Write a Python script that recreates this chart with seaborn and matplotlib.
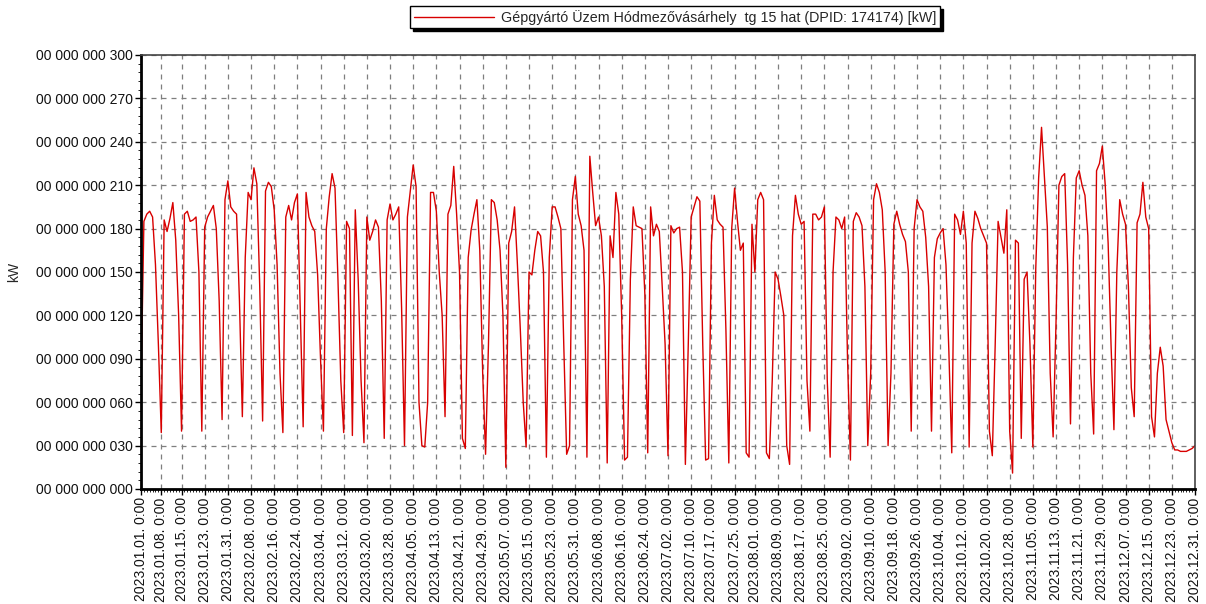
import matplotlib
matplotlib.use("Agg")
import numpy as np
import pandas as pd
import matplotlib.pyplot as plt
import matplotlib.dates as mdates
from matplotlib.ticker import MultipleLocator
import seaborn as sns

# ---------------- data ----------------
series_label = "Gépgyártó Üzem Hódmezővásárhely  tg 15 hat (DPID: 174174) [kW]"
y_label = "kW"
start_date = "2023-01-01"

tick_dates = [
    "2023-01-01", "2023-01-08", "2023-01-15", "2023-01-23", "2023-01-31",
    "2023-02-08", "2023-02-16", "2023-02-24", "2023-03-04", "2023-03-12",
    "2023-03-20", "2023-03-28", "2023-04-05", "2023-04-13", "2023-04-21",
    "2023-04-29", "2023-05-07", "2023-05-15", "2023-05-23", "2023-05-31",
    "2023-06-08", "2023-06-16", "2023-06-24", "2023-07-02", "2023-07-10",
    "2023-07-17", "2023-07-25", "2023-08-01", "2023-08-09", "2023-08-17",
    "2023-08-25", "2023-09-02", "2023-09-10", "2023-09-18", "2023-09-26",
    "2023-10-04", "2023-10-12", "2023-10-20", "2023-10-28", "2023-11-05",
    "2023-11-13", "2023-11-21", "2023-11-29", "2023-12-07", "2023-12-15",
    "2023-12-23", "2023-12-31",
]
y_ticks = [0, 30, 60, 90, 120, 150, 180, 210, 240, 270, 300]

# daily values (kW): Jan 1, then weeks Mon..Sun
kw_part1 = [
    69,
    185, 190, 192, 188, 155, 100, 39,
    186, 178, 187, 198, 172, 120, 40,
    190, 192, 185, 186, 188, 150, 40,
    181, 188, 192, 196, 180, 130, 48,
    200, 213, 195, 192, 190, 130, 50,
    160, 205, 200, 222, 211, 140, 47,
    206, 212, 209, 193, 155, 80, 39,
    188, 196, 186, 198, 204, 125, 43,
    205, 188, 182, 178, 148, 90, 40,
    180, 202, 218, 208, 146, 75, 39,
    185, 180, 37, 193, 145, 75, 32,
    188, 172, 178, 186, 181, 130, 35,
    186, 197, 186, 190, 195, 125, 30,
]
kw_part2 = [
    188, 206, 224, 209, 60, 30, 29,
    60, 205, 205, 192, 150, 120, 50,
    190, 196, 223, 190, 150, 35, 28,
    160, 179, 190, 200, 165, 80, 24,
    100, 200, 198, 186, 165, 120, 15,
    170, 178, 195, 155, 110, 60, 29,
    150, 148, 165, 178, 175, 150, 22,
    160, 195, 195, 188, 180, 100, 24,
    30, 200, 216, 190, 182, 165, 22,
    230, 205, 182, 188, 175, 140, 18,
    175, 160, 205, 190, 120, 20, 22,
    145, 195, 182, 181, 180, 135, 25,
    195, 175, 183, 178, 140, 100, 23,
]
kw_part3 = [
    182, 177, 180, 181, 150, 17, 100,
    188, 195, 202, 199, 100, 20, 21,
    170, 203, 186, 183, 181, 110, 18,
    180, 208, 185, 165, 170, 25, 22,
    183, 150, 200, 205, 200, 25, 21,
    75, 150, 145, 133, 120, 30, 17,
    175, 203, 190, 183, 185, 75, 40,
    190, 190, 186, 188, 195, 75, 22,
    150, 188, 186, 180, 188, 90, 20,
    185, 191, 188, 182, 140, 30, 80,
    200, 211, 205, 193, 150, 30, 80,
    183, 192, 183, 176, 171, 150, 40,
    180, 200, 195, 192, 174, 140, 40,
]
kw_part4 = [
    160, 173, 177, 180, 155, 95, 25,
    190, 186, 176, 192, 170, 29, 170,
    192, 187, 180, 175, 170, 40, 23,
    100, 185, 174, 163, 193, 40, 11,
    172, 170, 35, 145, 150, 100, 29,
    152, 215, 250, 215, 181, 80, 36,
    115, 210, 216, 218, 155, 45, 160,
    215, 220, 210, 203, 175, 80, 38,
    220, 225, 237, 210, 170, 100, 41,
    150, 200, 190, 183, 140, 70, 50,
    184, 190, 212, 188, 180, 50, 36,
    80, 98, 85, 48, 40, 32, 27,
    27, 26, 26, 26, 27, 28, 30,
]

values = kw_part1 + kw_part2 + kw_part3 + kw_part4
dates = pd.date_range(start_date, periods=len(values), freq="D")
df = pd.DataFrame({"date": dates, "kW": values})

# ---------------- style ----------------
sns.set_theme(style="white")
plt.rcParams["font.family"] = ["Liberation Sans", "DejaVu Sans"]
FS = 10
LFS = 10.3

W, H = 1206, 604
fig = plt.figure(figsize=(W / 100, H / 100), dpi=100)
L, R, T, B = 141, 1195, 55, 489
ax = fig.add_axes([L / W, 1 - B / H, (R - L) / W, (B - T) / H])

sns.lineplot(data=df, x="date", y="kW", ax=ax, color="#d80000",
             linewidth=1.0, label=series_label, legend=False)

ax.set_xlim(pd.Timestamp(tick_dates[0]), pd.Timestamp(tick_dates[-1]))
ax.set_ylim(y_ticks[0], y_ticks[-1])

tick_ts = pd.to_datetime(tick_dates)
ax.set_xticks(tick_ts)
ax.set_xticklabels([t.strftime("%Y.%m.%d.") + " 0:00" for t in tick_ts],
                   rotation=90, fontsize=FS)
ax.xaxis.set_minor_locator(mdates.DayLocator())

ax.set_yticks(y_ticks)
ax.set_yticklabels([f"00 000 000 {v:03d}" for v in y_ticks], fontsize=FS)
ax.yaxis.set_minor_locator(MultipleLocator(6))

ax.tick_params(axis="both", which="major", direction="out", length=4,
               width=1, color="black", pad=2, labelcolor="#111111")
ax.tick_params(axis="both", which="minor", direction="out", length=2,
               width=0.7, color="#222222")
ax.tick_params(axis="both", which="both", bottom=True, left=True)

ax.grid(True, which="major", linestyle=(0, (4, 4)), color="#7f7f7f",
        linewidth=0.9)

for side in ["left", "bottom"]:
    ax.spines[side].set_linewidth(2.0)
    ax.spines[side].set_color("black")
for side in ["top", "right"]:
    ax.spines[side].set_linewidth(1.2)
    ax.spines[side].set_color("#444444")

ax.set_xlabel("")
ax.set_ylabel(y_label, fontsize=FS)
ax.yaxis.set_label_coords(-(L - 21) / (R - L), 0.5)

handles = ax.get_lines()[:1]
leg = fig.legend(handles, [series_label], loc="upper center",
                 bbox_to_anchor=(675 / W, 1 - 6 / H), frameon=True,
                 fancybox=False, edgecolor="black", framealpha=1,
                 shadow={"color": "black", "alpha": 1.0},
                 fontsize=LFS, handlelength=5.6, handletextpad=0.5,
                 borderpad=0.25, borderaxespad=0)
leg.get_frame().set_linewidth(1.0)

fig.savefig("out.png", dpi=100)
